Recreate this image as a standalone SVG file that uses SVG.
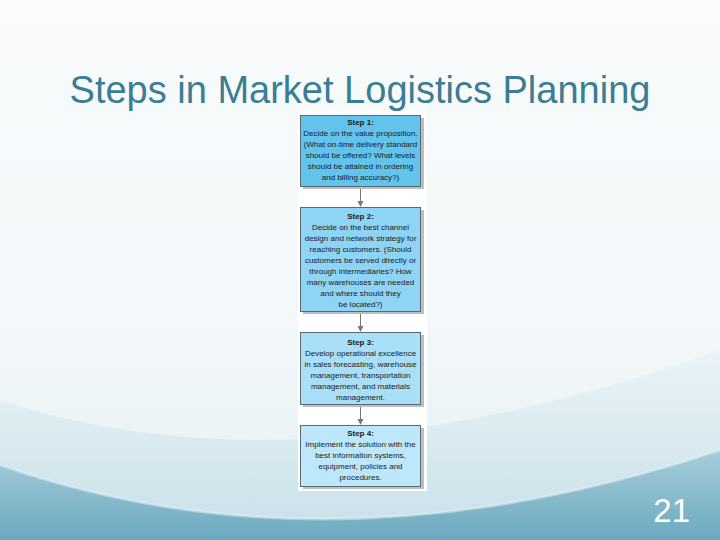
<svg xmlns="http://www.w3.org/2000/svg" width="720" height="540" viewBox="0 0 720 540">
<defs>
<linearGradient id="bg" x1="0" y1="0" x2="0" y2="1">
<stop offset="0" stop-color="#f9fbfc"/>
<stop offset="0.6" stop-color="#f3f8fa"/>
<stop offset="1" stop-color="#e4eff3"/>
</linearGradient>
<linearGradient id="wave1" x1="0" y1="0" x2="0" y2="1">
<stop offset="0" stop-color="#e6f1f5"/>
<stop offset="1" stop-color="#b4d5e1"/>
</linearGradient>
<linearGradient id="wave2" x1="0" y1="0" x2="0" y2="1">
<stop offset="0" stop-color="#a6cddb"/>
<stop offset="1" stop-color="#6ba9be"/>
</linearGradient>
<marker id="arr" markerWidth="6" markerHeight="6" refX="5" refY="3" orient="auto" markerUnits="userSpaceOnUse">
<path d="M0,0 L6,3 L0,6 Z" fill="#777"/>
</marker>
</defs>
<style>
.box{stroke:#5a6a72;stroke-width:1}
.sh{fill:#b9c0c4}
.t{font-family:"Liberation Sans Narrow","Liberation Sans",Arial,sans-serif;font-size:8px;fill:#1a1a1a;text-anchor:middle}
.b{font-weight:bold}
.con{stroke:#777;stroke-width:1;fill:none}
</style>
<rect width="720" height="540" fill="url(#bg)"/>
<path d="M0,400 Q300,500 720,350 L720,540 L0,540 Z" fill="url(#wave1)" opacity="0.6"/>
<path d="M0,465 Q330,580 720,450 L720,540 L0,540 Z" fill="url(#wave2)"/>
<path d="M0,465 Q330,580 720,450" stroke="#e6f1f5" stroke-width="3" fill="none" opacity="0.5"/>
<text x="360" y="103" font-family="Liberation Sans,Arial,sans-serif" font-size="38" fill="#3b7d93" text-anchor="middle">Steps in Market Logistics Planning</text>
<rect x="298" y="111" width="129" height="380" fill="#ffffff"/>
<g id="connectors">
<line class="con" x1="360.5" y1="187" x2="360.5" y2="206" marker-end="url(#arr)"/>
<line class="con" x1="360.5" y1="312" x2="360.5" y2="331" marker-end="url(#arr)"/>
<line class="con" x1="360.5" y1="405" x2="360.5" y2="424" marker-end="url(#arr)"/>
</g>
<g id="step1">
<rect class="sh" x="303" y="118" width="121" height="71"/>
<rect class="box" x="300.5" y="115.5" width="120" height="71" fill="#62c3ed"/>
<text class="t b" x="360.5" y="125">Step 1:</text>
<text class="t" x="360.5" y="136">Decide on the value proposition.</text>
<text class="t" x="360.5" y="147">(What on-time delivery standard</text>
<text class="t" x="360.5" y="158">should be offered? What levels</text>
<text class="t" x="360.5" y="169">should be attained in ordering</text>
<text class="t" x="360.5" y="180">and billing accuracy?)</text>
</g>
<g id="step2">
<rect class="sh" x="303" y="210" width="121" height="104"/>
<rect class="box" x="300.5" y="207.5" width="120" height="104" fill="#8ed4f4"/>
<text class="t b" x="360.5" y="219">Step 2:</text>
<text class="t" x="360.5" y="230">Decide on the best channel</text>
<text class="t" x="360.5" y="241">design and network strategy for</text>
<text class="t" x="360.5" y="252">reaching customers. (Should</text>
<text class="t" x="360.5" y="263">customers be served directly or</text>
<text class="t" x="360.5" y="274">through intermediaries? How</text>
<text class="t" x="360.5" y="285">many warehouses are needed</text>
<text class="t" x="360.5" y="296">and where should they</text>
<text class="t" x="360.5" y="307">be located?)</text>
</g>
<g id="step3">
<rect class="sh" x="303" y="335" width="121" height="72"/>
<rect class="box" x="300.5" y="332.5" width="120" height="72" fill="#a9dff8"/>
<text class="t b" x="360.5" y="345">Step 3:</text>
<text class="t" x="360.5" y="356">Develop operational excellence</text>
<text class="t" x="360.5" y="367">in sales forecasting, warehouse</text>
<text class="t" x="360.5" y="378">management, transportation</text>
<text class="t" x="360.5" y="389">management, and materials</text>
<text class="t" x="360.5" y="400">management.</text>
</g>
<g id="step4">
<rect class="sh" x="303" y="428" width="121" height="61"/>
<rect class="box" x="300.5" y="425.5" width="120" height="61" fill="#bde7fb"/>
<text class="t b" x="360.5" y="436">Step 4:</text>
<text class="t" x="360.5" y="447">Implement the solution with the</text>
<text class="t" x="360.5" y="458">best information systems,</text>
<text class="t" x="360.5" y="469">equipment, policies and</text>
<text class="t" x="360.5" y="480">procedures.</text>
</g>
<text x="690" y="522" font-family="Liberation Sans,Arial,sans-serif" font-size="33" fill="#ffffff" text-anchor="end">21</text>
</svg>
